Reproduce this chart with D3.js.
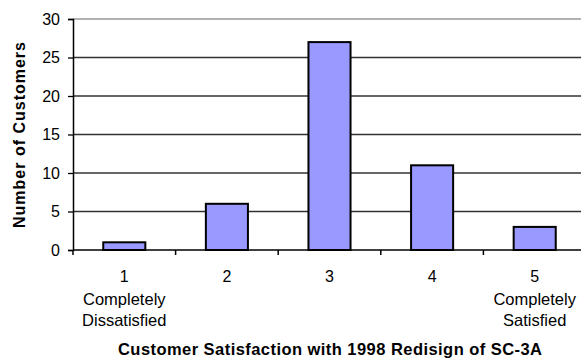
<!DOCTYPE html>
<html>
<head>
    <meta charset="utf-8">
    <title>Customer Satisfaction</title>
    <script src="https://d3js.org/d3.v7.min.js"></script>
    <style>
        body { margin: 0; background: #fff; }
        text { font-family: "Liberation Sans", Arial, sans-serif; fill: #000; }
    </style>
</head>
<body>
    <div id="chart"></div>
    <script>
        const categories = ["1", "2", "3", "4", "5"];
        const subLabels = [["Completely", "Dissatisfied"], [], [], [], ["Completely", "Satisfied"]];
        const counts = [1, 6, 27, 11, 3];
        const yTicks = [0, 5, 10, 15, 20, 25, 30];

        const width = 581, height = 358;
        const plot = {left: 73, right: 586, top: 19, bottom: 250};

        const svg = d3.select("#chart")
          .append("svg")
            .attr("width", width)
            .attr("height", height);

        const x = d3.scaleBand()
            .domain(categories)
            .range([plot.left, plot.right])
            .paddingInner(0.59)
            .paddingOuter(0.295);

        const y = d3.scaleLinear()
            .domain([0, 30])
            .range([plot.bottom, plot.top]);

        // gridlines
        svg.append("g")
          .selectAll("line")
          .data(yTicks.filter(d => d > 0))
          .join("line")
            .attr("x1", plot.left)
            .attr("x2", plot.right)
            .attr("y1", d => y(d))
            .attr("y2", d => y(d))
            .attr("stroke", d => d === 30 ? "#999" : "#333")
            .attr("stroke-width", 1.3);

        // bars
        svg.append("g")
          .selectAll("rect")
          .data(counts)
          .join("rect")
            .attr("x", (d, i) => x(categories[i]))
            .attr("y", d => y(d))
            .attr("width", x.bandwidth())
            .attr("height", d => y(0) - y(d))
            .attr("fill", "#9999ff")
            .attr("stroke", "#000")
            .attr("stroke-width", 2);

        // y axis
        const yAxis = svg.append("g")
            .attr("transform", `translate(${plot.left},0)`)
            .call(d3.axisLeft(y).tickValues(yTicks).tickSize(5).tickPadding(8));
        yAxis.select(".domain").attr("stroke", "#000").attr("stroke-width", 1.5);
        yAxis.selectAll(".tick line").attr("stroke", "#000").attr("stroke-width", 1.3);
        yAxis.selectAll(".tick text").style("font-size", "16px").style("font-family", "Liberation Sans, Arial, sans-serif");

        // x axis baseline and ticks at category boundaries
        const step = x.step();
        const boundaries = d3.range(categories.length + 1).map(i => plot.left + i * step);
        svg.append("line")
            .attr("x1", plot.left).attr("x2", plot.right)
            .attr("y1", plot.bottom).attr("y2", plot.bottom)
            .attr("stroke", "#000").attr("stroke-width", 1.5);
        svg.append("g")
          .selectAll("line")
          .data(boundaries)
          .join("line")
            .attr("x1", d => d).attr("x2", d => d)
            .attr("y1", plot.bottom).attr("y2", plot.bottom + 5)
            .attr("stroke", "#000").attr("stroke-width", 1.5);

        // category labels
        const labelG = svg.append("g");
        categories.forEach((c, i) => {
            const cx = x(c) + x.bandwidth() / 2;
            labelG.append("text")
                .attr("x", cx).attr("y", 282)
                .attr("text-anchor", "middle")
                .style("font-size", "16px")
                .text(c);
            subLabels[i].forEach((s, j) => {
                labelG.append("text")
                    .attr("x", cx).attr("y", 305 + j * 21)
                    .attr("text-anchor", "middle")
                    .style("font-size", "16.5px")
                    .text(s);
            });
        });

        // axis titles
        svg.append("text")
            .attr("x", 330).attr("y", 355)
            .attr("text-anchor", "middle")
            .attr("textLength", 424)
            .style("font-size", "16.5px")
            .style("font-weight", "bold")
            .text("Customer Satisfaction with 1998 Redisign of SC-3A");

        svg.append("text")
            .attr("transform", "translate(25,135) rotate(-90)")
            .attr("text-anchor", "middle")
            .attr("textLength", 186)
            .style("font-size", "16px")
            .style("font-weight", "bold")
            .text("Number of Customers");
    </script>
</body>
</html>
